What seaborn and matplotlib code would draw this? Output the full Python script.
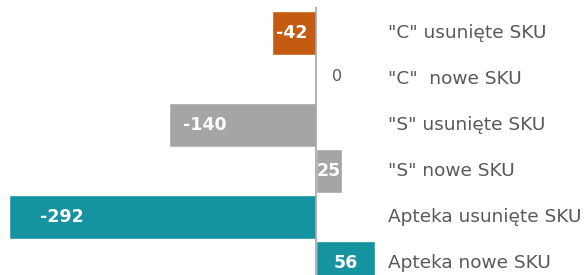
import numpy as np
import pandas as pd
import seaborn as sns
import matplotlib.pyplot as plt

# ── Data ────────────────────────────────────────────────────────────────
categories = ['"C" usunięte SKU', '"C"  nowe SKU', '"S" usunięte SKU',
              '"S" nowe SKU', 'Apteka usunięte SKU', 'Apteka nowe SKU']
values = [-42, 0, -140, 25, -292, 56]
groups = ["C", "C", "S", "S", "Apteka", "Apteka"]
palette = {"C": "#C55A11", "S": "#A5A5A5", "Apteka": "#1593A1"}

df = pd.DataFrame({"cat": categories, "val": values, "grp": groups})

sns.set_style("white")
plt.rcParams["font.family"] = ["DejaVu Sans"]

fig = plt.figure(figsize=(5.88, 2.75), dpi=100)
ax = fig.add_axes([0, 0, 1, 1])

sns.barplot(data=df, x="val", y="cat", hue="grp", palette=palette,
            order=categories, dodge=False, legend=False, width=0.956,
            saturation=1, orient="h", ax=ax)

# zero at 316 px, -292 at ~9 px
ax.set_xlim(-300.5, 258.7)
ax.set_ylim(5.26, -0.717)
ax.axis("off")

# vertical axis line
ax.vlines(0, -0.565, 5.3, color="#A6A6A6", lw=1.2)

# value labels
for i, v in enumerate(values):
    if v < 0:
        ax.text(v + 0.1 * abs(v), i, str(v), ha="left", va="center",
                color="white", fontweight="bold", fontsize=12.5)
    elif v > 0:
        ax.text(v / 2, i, str(v), ha="center", va="center",
                color="white", fontweight="bold", fontsize=12.5)
    else:
        ax.text(20, i - 0.05, str(v), ha="center", va="center",
                color="#595959", fontsize=11.5)

# category labels on the right
for i, c in enumerate(categories):
    ax.text(0.66, i, c, transform=ax.get_yaxis_transform(),
            ha="left", va="center", color="#595959", fontsize=13.3)

fig.savefig("out.png", dpi=100)
